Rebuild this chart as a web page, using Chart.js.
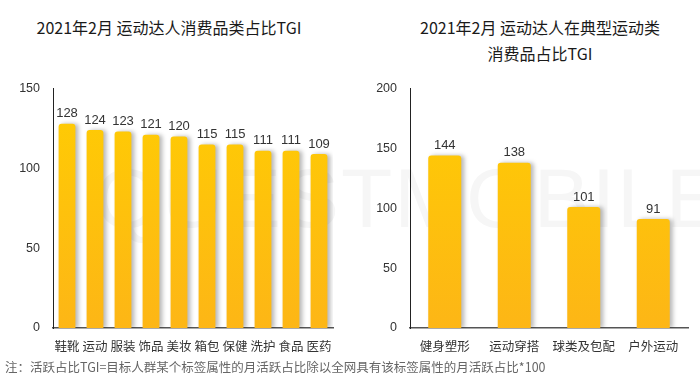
<!DOCTYPE html>
<html>
<head>
<meta charset="utf-8">
<script src="https://cdn.jsdelivr.net/npm/chart.js@4/dist/chart.umd.min.js"></script>
<style>
  html, body { margin: 0; padding: 0; background: #fff; }
  body { width: 700px; height: 382px; position: relative; overflow: hidden;
         font-family: "Noto Sans CJK SC", "Liberation Sans", sans-serif; }
  .title { position: absolute; color: #1a1a1a; font-size: 16px; font-weight: normal; text-align: center; line-height: 26px; white-space: nowrap; }
  .note { position: absolute; left: 5px; top: 357px; color: #666; font-size: 12.5px; white-space: nowrap; }
  .wrap { position: absolute; }
  canvas { display: block; }
  .wm { position: absolute; left: 95px; top: 150px; font-family: "Liberation Sans", Arial, sans-serif;
        font-size: 84px; color: #f6f6f6; letter-spacing: 2px; white-space: nowrap; }
</style>
</head>
<body>
<div class="wm">QUESTMOBILE</div>
<div class="title" style="left:19px; top:14px; width:300px;">2021年2月 运动达人消费品类占比TGI</div>
<div class="title" style="left:390px; top:14px; width:300px;">2021年2月 运动达人在典型运动类<br>消费品占比TGI</div>
<div class="wrap" style="left:0; top:68px; width:345px; height:292px;"><canvas id="c1" width="345" height="292"></canvas></div>
<div class="wrap" style="left:350px; top:68px; width:350px; height:292px;"><canvas id="c2" width="350" height="292"></canvas></div>
<div class="note">注：活跃占比TGI=目标人群某个标签属性的月活跃占比除以全网具有该标签属性的月活跃占比*100</div>
<script>
const leftCategories = ["鞋靴", "运动", "服装", "饰品", "美妆", "箱包", "保健", "洗护", "食品", "医药"];
const leftValues = [128, 124, 123, 121, 120, 115, 115, 111, 111, 109];
const leftTicks = [0, 50, 100, 150];

const rightCategories = ["健身塑形", "运动穿搭", "球类及包配", "户外运动"];
const rightValues = [144, 138, 101, 91];
const rightTicks = [0, 50, 100, 150, 200];

function gradient(ctx) {
  const chart = ctx.chart;
  const area = chart.chartArea;
  if (!area) return '#FFC60A';
  const g = chart.ctx.createLinearGradient(0, area.top, 0, area.bottom);
  g.addColorStop(0, '#FFCD02');
  g.addColorStop(1, '#FDB616');
  return g;
}

const shadowPlugin = {
  id: 'barShadow',
  beforeDatasetDraw(chart) {
    const c = chart.ctx;
    c.save();
    c.shadowColor = 'rgba(0,0,0,0.28)';
    c.shadowBlur = 4;
    c.shadowOffsetX = 3;
    c.shadowOffsetY = 0;
  },
  afterDatasetDraw(chart) { chart.ctx.restore(); }
};

const valueLabels = {
  id: 'valueLabels',
  afterDatasetsDraw(chart) {
    const c = chart.ctx;
    const meta = chart.getDatasetMeta(0);
    const data = chart.data.datasets[0].data;
    c.save();
    c.fillStyle = '#333';
    c.font = '13px "Liberation Sans", Arial, sans-serif';
    c.textAlign = 'center';
    c.textBaseline = 'middle';
    meta.data.forEach((bar, i) => {
      c.fillText(String(data[i]), bar.x, bar.y - 10);
    });
    c.restore();
  }
};

function makeChart(id, cats, vals, ticks, maxV, yWidth, barPct, padRight) {
  return new Chart(document.getElementById(id), {
    type: 'bar',
    data: {
      labels: cats,
      datasets: [{
        data: vals,
        backgroundColor: gradient,
        borderRadius: { topLeft: 3, topRight: 3, bottomLeft: 0, bottomRight: 0 },
        borderSkipped: 'start',
        barPercentage: barPct,
        categoryPercentage: 1.0
      }]
    },
    plugins: [shadowPlugin, valueLabels],
    options: {
      responsive: false,
      animation: false,
      events: [],
      layout: { padding: { top: 6, right: padRight, left: 0, bottom: 0 } },
      plugins: { legend: { display: false }, tooltip: { enabled: false } },
      scales: {
        x: {
          grid: { display: false, drawTicks: false },
          border: { display: true, color: '#555', width: 1.5 },
          ticks: { color: '#333', padding: 11, maxRotation: 0, autoSkip: false,
                   font: { size: 12.5, family: '"Noto Sans CJK SC", sans-serif' } },
          afterFit(s) { s.height = 32; }
        },
        y: {
          min: 0, max: maxV,
          afterBuildTicks(s) { s.ticks = ticks.map(v => ({ value: v })); },
          grid: { display: false, drawTicks: false },
          border: { display: true, color: '#222', width: 1 },
          ticks: { color: '#333', padding: 13,
                   font: { size: 12.5, family: '"Liberation Sans", Arial, sans-serif' } },
          afterFit(s) { s.width = yWidth; }
        }
      }
    }
  });
}

makeChart('c1', leftCategories, leftValues, leftTicks, 150, 53, 0.6, 12);
makeChart('c2', rightCategories, rightValues, rightTicks, 200, 60, 0.475, 12);
</script>
</body>
</html>
